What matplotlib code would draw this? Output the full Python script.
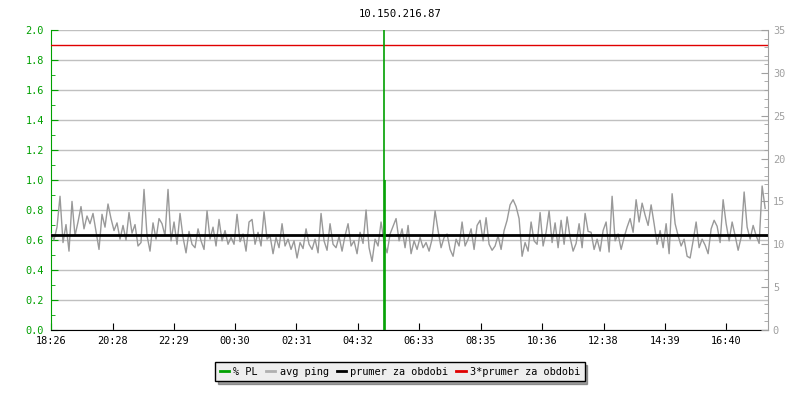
import matplotlib
matplotlib.use("Agg")
import matplotlib.pyplot as plt
from matplotlib.lines import Line2D
from matplotlib.ticker import MultipleLocator, FormatStrFormatter
import numpy as np

# data
title = "10.150.216.87"
tick_labels = ["18:26", "20:28", "22:29", "00:30", "02:31", "04:32",
               "06:33", "08:35", "10:36", "12:38", "14:39", "16:40"]
span_min = 1417          # minutes shown on the x axis
sample_step = 5.93       # minutes between ping samples

ping = [
    11.2, 10.5, 12.0, 15.6, 10.2, 12.3, 9.2, 15.0, 11.0, 12.6,
    14.4, 11.8, 13.3, 12.4, 13.6, 11.5, 9.4, 13.5, 12.0, 14.7,
    13.0, 11.6, 12.5, 10.6, 12.2, 10.5, 13.7, 11.3, 12.3, 9.8,
    10.2, 16.4, 11.0, 9.2, 12.5, 10.6, 13.0, 12.4, 11.0, 16.4,
    10.4, 12.6, 10.0, 13.6, 10.8, 9.0, 11.5, 10.0, 9.6, 11.8,
    10.4, 9.4, 13.9, 10.6, 12.0, 9.8, 12.9, 10.4, 11.6, 10.0,
    10.8, 10.0, 13.5, 10.3, 11.2, 9.2, 12.6, 12.9, 10.0, 11.4,
    9.8, 13.8, 10.6, 11.0, 8.9, 10.8, 9.6, 12.4, 9.8, 10.6,
    9.4, 10.4, 8.4, 10.2, 9.5, 11.8, 10.0, 9.4, 10.6, 9.0,
    13.6, 10.4, 9.3, 12.4, 10.0, 9.6, 10.9, 9.2, 11.0, 12.4,
    9.8, 10.4, 8.9, 11.4, 10.1, 14.0, 9.6, 8.0, 10.6, 9.8,
    12.6, 10.2, 9.0, 11.2, 12.1, 13.0, 10.4, 11.8, 9.6, 12.2,
    8.9, 10.4, 9.4, 10.8, 9.6, 10.2, 9.2, 10.6, 13.9, 11.6,
    9.6, 10.8, 11.2, 9.4, 8.6, 10.6, 9.8, 12.6, 9.8, 10.6,
    11.8, 9.4, 12.2, 12.8, 10.4, 13.1, 10.0, 9.3, 9.8, 11.0,
    9.4, 11.6, 12.8, 14.6, 15.2, 14.4, 13.0, 8.6, 10.2, 9.2,
    12.6, 10.4, 10.0, 13.7, 9.8, 11.4, 13.9, 10.2, 12.5, 9.6,
    12.8, 10.0, 13.2, 10.8, 9.2, 10.1, 12.4, 9.6, 13.6, 11.5,
    11.4, 9.4, 10.6, 9.2, 11.6, 12.6, 9.1, 15.6, 10.4, 11.2,
    9.4, 10.8, 12.0, 13.0, 11.4, 15.2, 12.6, 14.8, 13.4, 12.2,
    14.6, 12.4, 10.0, 11.6, 9.6, 12.4, 8.9, 15.9, 12.4, 11.0,
    9.8, 10.6, 8.6, 8.4, 10.4, 12.6, 9.6, 10.6, 9.9, 8.9,
    11.8, 12.8, 12.1, 10.2, 15.2, 12.4, 10.4, 12.6, 11.0, 9.3,
    10.8, 16.1, 12.0, 10.6, 12.2, 11.0, 10.1, 16.8, 14.2,
]
mean_ping = 11.08

pl_times = [658, 660]     # minutes after 18:26
pl_values = [4.0, 1.0]

# x positions
t = np.arange(len(ping)) * sample_step
tick_pos = []
for lab in tick_labels:
    h, m = lab.split(":")
    mins = (int(h) * 60 + int(m) - (18 * 60 + 26)) % 1440
    tick_pos.append(mins)

green = "#00a000"
grey = "#999999"
axgrey = "#a0a0a0"
font = "DejaVu Sans Mono"
plt.rcParams["font.family"] = font
plt.rcParams["font.size"] = 7.4

fig = plt.figure(figsize=(8, 4), dpi=100)
ax = fig.add_axes([51 / 800, 0.175, 717 / 800, 0.75])
ax2 = ax.twinx()

# left axis (% PL)
ax.set_xlim(0, span_min)
ax.set_ylim(0, 2.0)
ax.yaxis.set_major_locator(MultipleLocator(0.2))
ax.yaxis.set_minor_locator(MultipleLocator(0.1))
ax.yaxis.set_major_formatter(FormatStrFormatter("%.1f"))
ax.grid(axis="y", color="#c0c0c0", linewidth=1)
ax.set_axisbelow(True)
ax.tick_params(axis="y", which="both", direction="in", colors=green, labelcolor=green, pad=5)
ax.tick_params(axis="y", which="major", length=5)
ax.tick_params(axis="y", which="minor", length=3)
ax.set_xticks(tick_pos)
ax.set_xticklabels(tick_labels)
ax.tick_params(axis="x", direction="in", length=5, color="black", pad=4)
ax.spines["left"].set_color(green)
ax.spines["bottom"].set_color("black")
ax.spines["top"].set_visible(False)
ax.spines["right"].set_visible(False)

# right axis (ping ms)
ax2.set_ylim(0, 35)
ax2.yaxis.set_major_locator(MultipleLocator(5))
ax2.yaxis.set_minor_locator(MultipleLocator(1))
ax2.tick_params(axis="y", which="both", direction="in", colors=axgrey, labelcolor=axgrey)
ax2.tick_params(axis="y", which="major", length=5)
ax2.tick_params(axis="y", which="minor", length=3)
for s in ["left", "top", "bottom"]:
    ax2.spines[s].set_visible(False)
ax2.spines["right"].set_color(axgrey)

ax2.plot(t, ping, color=grey, linewidth=1)
ax2.axhline(mean_ping, color="black", linewidth=2)
ax2.axhline(3 * mean_ping, color="#e00000", linewidth=1)
# packet loss uses the left scale, drawn on top of the ping trace
ax2.vlines(pl_times, 0, pl_values, color=green, linewidth=1.2, transform=ax.transData)

fig.text(0.5, 1 - 14 / 400, title, ha="center", va="center", fontsize=7.6)

handles = [
    Line2D([], [], color=green, linewidth=2),
    Line2D([], [], color="#b0b0b0", linewidth=2),
    Line2D([], [], color="black", linewidth=2),
    Line2D([], [], color="#e00000", linewidth=2),
]
labels = ["% PL", "avg ping", "prumer za obdobi", "3*prumer za obdobi"]
leg = fig.legend(handles, labels, loc="upper center", bbox_to_anchor=(0.5, 1 - 357 / 400),
                 ncol=4, frameon=True, fancybox=False, shadow=True,
                 handlelength=0.9, handletextpad=0.4, columnspacing=0.8,
                 borderpad=0.45, fontsize=7.4)
leg.get_frame().set_edgecolor("black")
leg.get_frame().set_facecolor("#eeeeee")
leg.get_frame().set_alpha(1)

fig.savefig("out.png", dpi=100)
